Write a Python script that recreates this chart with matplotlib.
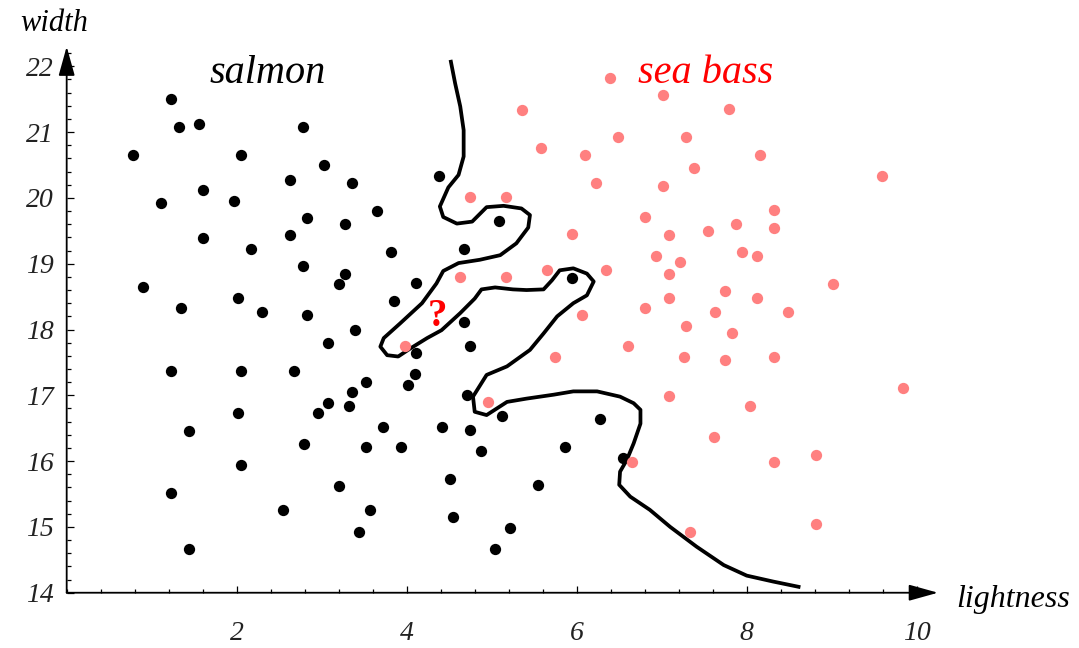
import numpy as np
import matplotlib.pyplot as plt
from matplotlib.ticker import MultipleLocator

# salmon samples (lightness, width)
salmon_x = [1.23, 1.32, 1.56, 0.78, 2.05, 2.78, 3.03, 2.63, 3.36, 1.60,
            1.11, 1.97, 2.83, 2.63, 3.28, 1.60, 2.17, 2.78, 3.28, 3.20,
            0.90, 2.01, 1.35, 2.30, 2.83, 3.39, 3.08, 1.23, 2.05, 2.67,
            3.36, 3.08, 3.32, 2.96, 2.01, 1.44, 2.79, 2.05, 1.23, 3.20,
            2.54, 1.44, 3.44, 4.38, 3.65, 5.08, 4.67, 3.81, 4.11, 5.94,
            3.85, 4.67, 4.75, 4.11, 4.10, 4.02, 3.52, 4.71, 5.12, 3.72,
            4.42, 4.75, 3.52, 3.93, 4.87, 6.27, 5.86, 6.55, 4.51, 5.54,
            3.57, 4.55, 5.21, 5.04]
salmon_y = [21.50, 21.08, 21.13, 20.66, 20.66, 21.08, 20.50, 20.28, 20.23, 20.12,
            19.92, 19.96, 19.69, 19.44, 19.60, 19.39, 19.23, 18.96, 18.85, 18.69,
            18.64, 18.48, 18.32, 18.27, 18.22, 18.00, 17.79, 17.37, 17.37, 17.37,
            17.05, 16.89, 16.84, 16.73, 16.73, 16.46, 16.26, 15.94, 15.52, 15.62,
            15.25, 14.67, 14.93, 20.33, 19.80, 19.65, 19.22, 19.18, 18.70, 18.79,
            18.43, 18.11, 17.75, 17.64, 17.32, 17.16, 17.21, 17.00, 16.69, 16.52,
            16.52, 16.47, 16.21, 16.21, 16.15, 16.64, 16.21, 16.05, 15.73, 15.63,
            15.25, 15.15, 14.99, 14.67]

# sea bass samples
bass_x = [6.39, 5.36, 6.48, 5.58, 6.10, 6.23, 4.75, 5.17, 5.94, 6.35,
          5.65, 5.17, 4.63, 6.06, 6.60, 3.98, 5.74, 4.96, 6.65, 7.01,
          7.79, 7.29, 8.16, 7.38, 7.01, 9.59, 6.80, 8.32, 7.87, 7.54,
          7.09, 8.32, 7.95, 8.12, 6.93, 7.21, 7.09, 9.02, 7.74, 7.09,
          8.12, 6.80, 7.63, 8.48, 7.29, 7.83, 7.26, 7.74, 8.32, 7.09,
          8.04, 9.84, 7.62, 8.81, 8.32, 8.81, 7.33]
bass_y = [21.82, 21.34, 20.92, 20.76, 20.66, 20.23, 20.02, 20.02, 19.45, 18.90,
          18.91, 18.80, 18.80, 18.22, 17.75, 17.75, 17.59, 16.90, 15.99, 21.56,
          21.35, 20.92, 20.66, 20.45, 20.18, 20.34, 19.71, 19.81, 19.60, 19.49,
          19.44, 19.54, 19.18, 19.12, 19.12, 19.02, 18.85, 18.69, 18.59, 18.48,
          18.48, 18.32, 18.27, 18.26, 18.06, 17.95, 17.59, 17.53, 17.59, 16.99,
          16.84, 17.11, 16.36, 16.09, 15.99, 15.04, 14.93]

# hand drawn decision boundary
boundary_x = [4.52, 4.57, 4.63, 4.67, 4.67, 4.61, 4.49, 4.39, 4.43, 4.59,
              4.77, 4.94, 5.14, 5.35, 5.45, 5.43, 5.29, 5.10, 4.86, 4.61,
              4.43, 4.35, 4.18, 3.92, 3.73, 3.69, 3.77, 3.90, 4.04, 4.24,
              4.41, 4.63, 4.80, 4.88, 5.04, 5.25, 5.41, 5.61, 5.71, 5.80,
              5.96, 6.12, 6.20, 6.12, 5.96, 5.77, 5.61, 5.45, 5.18, 4.94,
              4.78, 4.80, 4.94, 5.18, 5.41, 5.73, 5.96, 6.24, 6.51, 6.67,
              6.75, 6.75, 6.67, 6.59, 6.51, 6.50, 6.63, 6.86, 7.10, 7.41,
              7.73, 8.00, 8.31, 8.61]
boundary_y = [22.07, 21.74, 21.39, 21.03, 20.63, 20.35, 20.16, 19.87, 19.71, 19.61,
              19.64, 19.86, 19.88, 19.84, 19.74, 19.55, 19.31, 19.13, 19.06, 19.01,
              18.89, 18.70, 18.40, 18.09, 17.87, 17.74, 17.61, 17.59, 17.71, 17.87,
              17.99, 18.25, 18.47, 18.61, 18.64, 18.61, 18.60, 18.61, 18.75, 18.90,
              18.93, 18.85, 18.73, 18.52, 18.40, 18.20, 17.94, 17.69, 17.44, 17.31,
              16.98, 16.75, 16.70, 16.90, 16.95, 17.01, 17.06, 17.06, 16.98, 16.88,
              16.78, 16.57, 16.27, 16.02, 15.84, 15.64, 15.46, 15.26, 15.00, 14.70,
              14.42, 14.26, 14.17, 14.09]

serif = 'Liberation Serif'

fig = plt.figure(figsize=(10.79, 6.48), dpi=100)
ax = fig.add_axes([0.0618, 0.0853, 0.8075, 0.8428])
ax.set_xlim(0, 10.25)
ax.set_ylim(14, 22.3)

ax.plot(boundary_x, boundary_y, color='black', lw=2.7, zorder=2)
ax.scatter(salmon_x, salmon_y, s=66, color='black', lw=0, zorder=3)
ax.scatter(bass_x, bass_y, s=66, color='#ff8080', lw=0, zorder=3)

# axes with arrow heads
for s in ['top', 'right', 'left', 'bottom']:
    ax.spines[s].set_visible(False)
arrow = dict(arrowstyle='-|>,head_length=0.9,head_width=0.25', lw=1.3,
             color='black', mutation_scale=20, shrinkA=0, shrinkB=0)
ax.annotate('', xy=(10.25, 14), xytext=(0, 14), arrowprops=arrow,
            annotation_clip=False)
ax.annotate('', xy=(0, 22.3), xytext=(0, 14), arrowprops=arrow,
            annotation_clip=False)

ax.xaxis.set_minor_locator(MultipleLocator(0.4))
ax.yaxis.set_major_locator(MultipleLocator(1))
ax.yaxis.set_minor_locator(MultipleLocator(0.2))
ax.set_xticks([2, 4, 6, 8, 10])
ax.tick_params(which='both', direction='in', width=0.9, color='black')
ax.tick_params(which='major', length=5)
ax.tick_params(which='minor', length=3)
ax.tick_params(axis='x', pad=20)
ax.tick_params(axis='y', pad=9)
for lab in ax.get_xticklabels() + ax.get_yticklabels():
    lab.set_fontfamily(serif)
    lab.set_fontstyle('italic')
    lab.set_fontsize(20)
    lab.set_color('#222222')

ax.text(-0.15, 22.53, 'width', family=serif, style='italic', fontsize=22,
        ha='center', va='baseline', clip_on=False)
ax.text(10.47, 13.79, 'lightness', family=serif, style='italic', fontsize=23,
        ha='left', va='baseline', clip_on=False)
ax.text(2.36, 21.75, 'salmon', family=serif, style='italic', fontsize=29,
        ha='center', va='baseline')
ax.text(7.52, 21.75, 'sea bass', family=serif, style='italic', fontsize=29,
        color='red', ha='center', va='baseline')
ax.text(4.36, 18.06, '?', family=serif, fontweight='bold', fontsize=28,
        color='red', ha='center', va='baseline', zorder=4)

fig.savefig('out.png', dpi=100)
